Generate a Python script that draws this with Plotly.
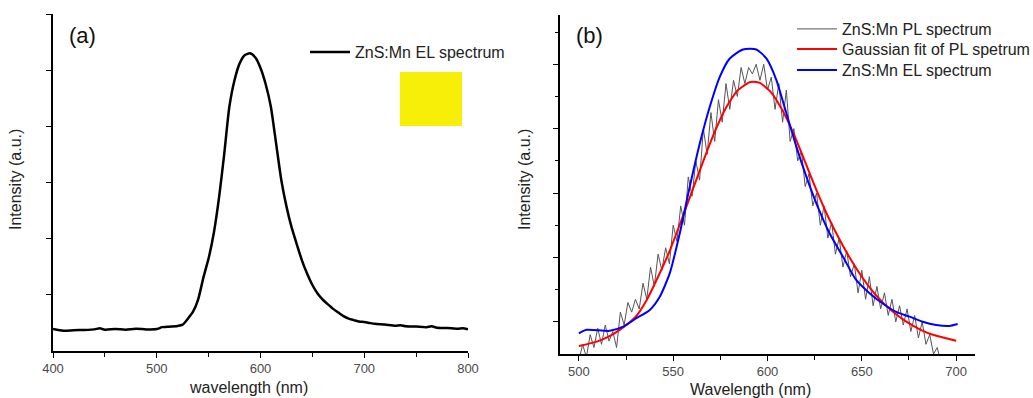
import plotly.graph_objects as go

W, H = 1033, 398

# ---------------- Panel (a) data: ZnS:Mn EL spectrum ----------------
a_wl = [400, 410, 420, 430, 440, 445, 450, 460, 470, 480, 490, 500, 505, 510, 520, 525,
        530, 535, 540, 545, 550, 555, 560, 565, 570, 575, 580, 585, 590, 595, 600, 605,
        610, 615, 620, 625, 630, 635, 640, 645, 650, 655, 660, 665, 670, 675, 680, 685,
        690, 695, 700, 705, 710, 720, 730, 735, 740, 750, 760, 765, 770, 780, 790, 795, 800]
a_el = [0.078, 0.072, 0.074, 0.075, 0.077, 0.081, 0.076, 0.078, 0.076, 0.079, 0.077, 0.078,
        0.085, 0.086, 0.089, 0.094, 0.115, 0.140, 0.185, 0.262, 0.330, 0.420, 0.545, 0.700,
        0.870, 0.965, 1.025, 1.054, 1.060, 1.045, 1.008, 0.950, 0.870, 0.740, 0.610, 0.515,
        0.440, 0.380, 0.322, 0.275, 0.235, 0.205, 0.183, 0.166, 0.150, 0.137, 0.124, 0.115,
        0.110, 0.105, 0.103, 0.100, 0.097, 0.094, 0.090, 0.092, 0.088, 0.087, 0.085, 0.088,
        0.083, 0.082, 0.079, 0.081, 0.077]

# ---------------- Panel (b) data ----------------
pl_wl = list(range(500, 701, 2))
pl_int = [-0.02, 0.03, -0.01, 0.06, 0.02, 0.08, 0.03, 0.09, 0.04, 0.07,
          0.02, 0.13, 0.09, 0.16, 0.13, 0.17, 0.14, 0.22, 0.17, 0.27,
          0.21, 0.31, 0.26, 0.33, 0.28, 0.40, 0.35, 0.46, 0.40, 0.55,
          0.49, 0.60, 0.54, 0.70, 0.62, 0.75, 0.66, 0.79, 0.72, 0.84,
          0.76, 0.85, 0.80, 0.89, 0.84, 0.89, 0.87, 0.90, 0.85, 0.90,
          0.82, 0.86, 0.76, 0.84, 0.72, 0.82, 0.66, 0.70, 0.60, 0.63,
          0.52, 0.56, 0.46, 0.50, 0.40, 0.46, 0.36, 0.41, 0.31, 0.36,
          0.27, 0.32, 0.24, 0.28, 0.19, 0.26, 0.17, 0.24, 0.15, 0.21,
          0.14, 0.19, 0.12, 0.17, 0.10, 0.15, 0.09, 0.14, 0.07, 0.12,
          0.05, 0.10, 0.03, 0.06, 0.00, 0.02, -0.03, 0.00, -0.04, -0.02,
          -0.05]

fit_wl = [500, 506, 512, 518, 524, 530, 536, 542, 548, 554, 560, 566, 572, 578, 584, 590,
          592, 596, 602, 608, 614, 620, 626, 632, 638, 644, 650, 656, 662, 668, 674, 680,
          686, 692, 700]
fit_int = [0.025, 0.033, 0.044, 0.061, 0.085, 0.115, 0.168, 0.240, 0.318, 0.410, 0.505,
           0.600, 0.690, 0.765, 0.818, 0.843, 0.846, 0.842, 0.812, 0.756, 0.682, 0.596,
           0.508, 0.428, 0.358, 0.295, 0.240, 0.193, 0.155, 0.124, 0.099, 0.079, 0.063,
           0.053, 0.041]

el_wl = [500, 504, 516.4, 523.5, 530.5, 537.6, 542.9, 548.2, 553.5, 558.8, 564.1, 569.4,
         574.7, 580, 587, 594.1, 599.4, 604.7, 610, 615.3, 620.6, 625.9, 632.9, 640, 647,
         654.1, 661.1, 668.2, 675.3, 682.3, 689.4, 696.4, 700.8]
el_int = [0.064, 0.075, 0.072, 0.085, 0.111, 0.137, 0.178, 0.251, 0.375, 0.520, 0.654,
          0.768, 0.861, 0.918, 0.946, 0.946, 0.918, 0.851, 0.748, 0.644, 0.551, 0.468,
          0.375, 0.302, 0.230, 0.189, 0.157, 0.131, 0.116, 0.100, 0.090, 0.087, 0.093]

FONT = "Liberation Sans, Arial, sans-serif"

fig = go.Figure()
fig.add_trace(go.Scatter(x=a_wl, y=a_el, mode="lines", name="ZnS:Mn EL spectrum",
                         line=dict(color="black", width=2.5, shape="spline", smoothing=0.6),
                         xaxis="x", yaxis="y", legend="legend"))
fig.add_trace(go.Scatter(x=pl_wl, y=pl_int, mode="lines", name="ZnS:Mn PL spectrum",
                         line=dict(color="#555555", width=1),
                         xaxis="x2", yaxis="y2", legend="legend2"))
fig.add_trace(go.Scatter(x=fit_wl, y=fit_int, mode="lines", name="Gaussian fit of PL spetrum",
                         line=dict(color="#ff0000", width=2, shape="spline", smoothing=0.5),
                         xaxis="x2", yaxis="y2", legend="legend3"))
fig.add_trace(go.Scatter(x=el_wl, y=el_int, mode="lines", name="ZnS:Mn EL spectrum",
                         line=dict(color="#0000ff", width=2, shape="spline", smoothing=0.6),
                         xaxis="x2", yaxis="y2", legend="legend4"))

axis_common = dict(showline=True, linecolor="black", linewidth=1.5, showgrid=False,
                   zeroline=False, ticks="outside", tickcolor="black", ticklen=5, tickwidth=1.2,
                   tickfont=dict(family=FONT, size=13, color="#4a4a4a"), automargin=False)


def leg(xpx, ytop):
    return dict(x=xpx / W, y=(H - ytop) / H, xanchor="left", yanchor="top", itemwidth=40,
                bgcolor="rgba(0,0,0,0)", font=dict(family=FONT, size=16, color="#222"))


fig.update_layout(
    width=W, height=H, margin=dict(l=0, r=0, t=0, b=0, autoexpand=False),
    paper_bgcolor="white", plot_bgcolor="white",
    showlegend=True,
    xaxis=dict(**axis_common, domain=[53 / W, 468 / W], range=[400, 800],
               tickvals=[400, 500, 600, 700, 800],
               minor=dict(tickvals=[450, 550, 650, 750], ticklen=4, tickcolor="black", ticks="outside")),
    yaxis=dict(**axis_common, domain=[(H - 351) / H, (H - 14) / H], range=[0, 1.2],
               tickvals=[0.2, 0.4, 0.6, 0.8, 1.0, 1.2], showticklabels=False, anchor="x"),
    xaxis2=dict(**axis_common, domain=[560 / W, 975 / W], range=[490, 710], anchor="y2",
                tickvals=[500, 550, 600, 650, 700], ticklabelstandoff=0,
                minor=dict(tickvals=[525, 575, 625, 675], ticklen=4, tickcolor="black", ticks="outside")),
    yaxis2=dict(**axis_common, domain=[(H - 354) / H, (H - 15) / H], range=[0, 1.053],
                tickvals=[0.1, 0.3, 0.5, 0.7, 0.9], showticklabels=False, anchor="x2",
                minor=dict(tickvals=[0.2, 0.4, 0.6, 0.8, 1.0], ticklen=3, tickcolor="black", ticks="outside")),
    legend=leg(305, 35),
    legend2=leg(792, 12),
    legend3=leg(792, 32),
    legend4=leg(792, 53),
    shapes=[dict(type="rect", xref="paper", yref="paper",
                 x0=400 / W, x1=462 / W, y0=(H - 126) / H, y1=(H - 72) / H,
                 fillcolor="#f8ef08", line=dict(width=0), layer="above")],
    annotations=[
        dict(text="(a)", x=67 / W, y=(H - 36) / H, xref="paper", yref="paper", xanchor="left",
             yanchor="middle", showarrow=False, font=dict(family=FONT, size=22, color="#111")),
        dict(text="(b)", x=574 / W, y=(H - 35) / H, xref="paper", yref="paper", xanchor="left",
             yanchor="middle", showarrow=False, font=dict(family=FONT, size=22, color="#111")),
        dict(text="Intensity (a.u.)", x=16 / W, y=(H - 180) / H, xref="paper", yref="paper",
             xanchor="center", yanchor="middle",
             textangle=-90, showarrow=False, font=dict(family=FONT, size=16, color="#222")),
        dict(text="Intensity (a.u.)", x=525 / W, y=(H - 180) / H, xref="paper", yref="paper",
             xanchor="center", yanchor="middle",
             textangle=-90, showarrow=False, font=dict(family=FONT, size=16, color="#222")),
        dict(text="wavelength (nm)", x=248 / W, y=(H - 387) / H, xref="paper", yref="paper",
             xanchor="center", yanchor="middle",
             showarrow=False, font=dict(family=FONT, size=16, color="#222")),
        dict(text="Wavelength (nm)", x=750 / W, y=(H - 389) / H, xref="paper", yref="paper",
             xanchor="center", yanchor="middle",
             showarrow=False, font=dict(family=FONT, size=16, color="#222")),
    ],
)

fig.write_html("out.html")
